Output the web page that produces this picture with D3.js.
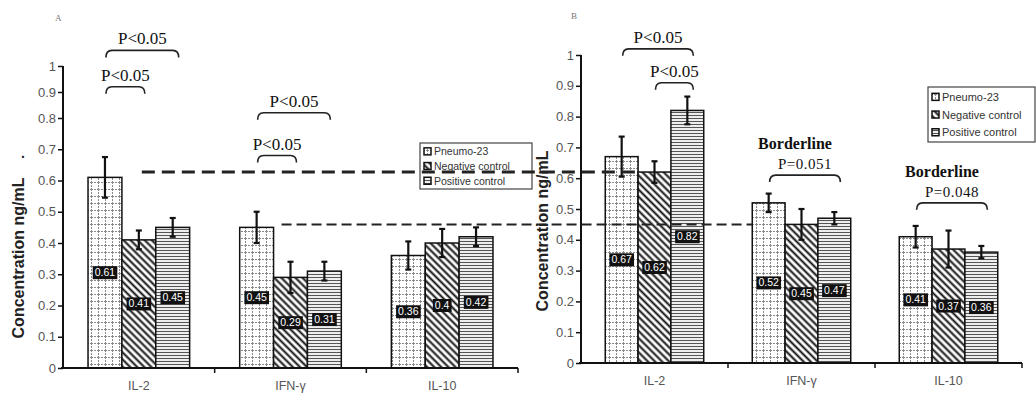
<!DOCTYPE html>
<html>
<head>
<meta charset="utf-8">
<script src="https://cdn.jsdelivr.net/npm/d3@7"></script>
<style>
  body { margin: 0; background: #fff; }
  svg { display: block; }
</style>
</head>
<body>
<svg id="chart" width="1036" height="393"></svg>
<script>
const categories = ['IL-2', 'IFN-γ', 'IL-10'];
const groups = ['Pneumo-23', 'Negative control', 'Positive control'];
const yTicks = [0, 0.1, 0.2, 0.3, 0.4, 0.5, 0.6, 0.7, 0.8, 0.9, 1];

// Panel A
const pneumoA = [0.61, 0.45, 0.36];
const negativeA = [0.41, 0.29, 0.4];
const positiveA = [0.45, 0.31, 0.42];
const pneumoAErr = [0.065, 0.05, 0.045];
const negativeAErr = [0.03, 0.05, 0.045];
const positiveAErr = [0.03, 0.03, 0.03];

// Panel B
const pneumoB = [0.67, 0.52, 0.41];
const negativeB = [0.62, 0.45, 0.37];
const positiveB = [0.82, 0.47, 0.36];
const pneumoBErr = [0.065, 0.03, 0.035];
const negativeBErr = [0.035, 0.05, 0.06];
const positiveBErr = [0.045, 0.02, 0.02];

// significance brackets: category, bar from -> bar to, height (data units), text lines
const sigA = [
  { cat: 0, from: 0, to: 1, y: 0.92, text: ['P<0.05'] },
  { cat: 0, from: 0, to: 2, y: 1.06, text: ['P<0.05'] },
  { cat: 1, from: 0, to: 2, y: 0.82, text: ['P<0.05'] },
  { cat: 1, from: 0, to: 1, y: 0.68, text: ['P<0.05'] }
];
const sigB = [
  { cat: 0, from: 0, to: 2, y: 1.02, text: ['P<0.05'] },
  { cat: 0, from: 1, to: 2, y: 0.91, text: ['P<0.05'] },
  { cat: 1, from: 0, to: 2, y: 0.61, text: ['Borderline', 'P=0.051'] },
  { cat: 2, from: 0, to: 2, y: 0.52, text: ['Borderline', 'P=0.048'] }
];

const svg = d3.select('#chart');
const defs = svg.append('defs');

// fill patterns
const pGrid = defs.append('pattern').attr('id', 'pat0')
  .attr('patternUnits', 'userSpaceOnUse').attr('width', 7).attr('height', 7);
pGrid.append('rect').attr('width', 7).attr('height', 7).attr('fill', '#fff');
pGrid.append('line').attr('x1', 0).attr('x2', 7).attr('y1', 0.5).attr('y2', 0.5)
  .attr('stroke', '#8a8a8a').attr('stroke-dasharray', '2,1');
pGrid.append('line').attr('x1', 0.5).attr('x2', 0.5).attr('y1', 0).attr('y2', 7)
  .attr('stroke', '#8a8a8a').attr('stroke-dasharray', '2,1');

const pDiag = defs.append('pattern').attr('id', 'pat1')
  .attr('patternUnits', 'userSpaceOnUse').attr('width', 5).attr('height', 5)
  .attr('patternTransform', 'rotate(45)');
pDiag.append('rect').attr('width', 5).attr('height', 5).attr('fill', '#fff');
pDiag.append('line').attr('x1', 0).attr('x2', 5).attr('y1', 2.5).attr('y2', 2.5)
  .attr('stroke', '#111').attr('stroke-width', 2);

const pHoriz = defs.append('pattern').attr('id', 'pat2')
  .attr('patternUnits', 'userSpaceOnUse').attr('width', 4).attr('height', 3);
pHoriz.append('rect').attr('width', 4).attr('height', 3).attr('fill', '#fff');
pHoriz.append('line').attr('x1', 0).attr('x2', 4).attr('y1', 1.5).attr('y2', 1.5)
  .attr('stroke', '#555').attr('stroke-width', 1.2);

const fills = ['url(#pat0)', 'url(#pat1)', 'url(#pat2)'];

function drawPanel(cfg) {
  const g = svg.append('g');
  const x = d3.scaleBand().domain(categories).range(cfg.xRange)
    .paddingInner(0.33).paddingOuter(0.165);
  const xi = d3.scaleBand().domain(groups).range([0, x.bandwidth()]);
  const y = cfg.y;
  const barX = (c, s) => x(categories[c]) + xi(groups[s]);
  const barMid = (c, s) => barX(c, s) + xi.bandwidth() / 2;

  // bars
  const rows = [];
  cfg.values.forEach((vals, s) => vals.forEach((v, c) => rows.push({ c, s, v, e: cfg.errors[s][c] })));

  g.selectAll('rect.bar').data(rows).join('rect')
    .attr('class', 'bar')
    .attr('x', d => barX(d.c, d.s))
    .attr('y', d => y(d.v))
    .attr('width', xi.bandwidth())
    .attr('height', d => y(0) - y(d.v))
    .attr('fill', d => fills[d.s])
    .attr('stroke', '#111').attr('stroke-width', 1.5);

  // value labels (black boxes)
  rows.forEach(d => {
    const cx = barMid(d.c, d.s);
    const cy = (y(0) + y(d.v)) / 2;
    const t = g.append('text').attr('x', cx).attr('y', cy + 3.5)
      .attr('text-anchor', 'middle').attr('font-family', 'Liberation Sans, Arial')
      .attr('font-size', 10.5).attr('fill', '#fff').text(String(d.v));
    const bb = t.node().getBBox();
    g.insert('rect', () => t.node())
      .attr('x', bb.x - 2).attr('y', cy - 6.5).attr('width', bb.width + 4).attr('height', 13)
      .attr('fill', '#111');
  });

  // error bars
  rows.forEach(d => {
    const cx = barMid(d.c, d.s);
    const eg = g.append('g').attr('stroke', '#111').attr('stroke-width', 2.2);
    eg.append('line').attr('x1', cx).attr('x2', cx).attr('y1', y(d.v + d.e)).attr('y2', y(d.v - d.e));
    eg.append('line').attr('x1', cx - 3).attr('x2', cx + 3).attr('y1', y(d.v + d.e)).attr('y2', y(d.v + d.e));
    eg.append('line').attr('x1', cx - 3).attr('x2', cx + 3).attr('y1', y(d.v - d.e)).attr('y2', y(d.v - d.e));
  });

  // y axis
  const yAxis = g.append('g').attr('transform', `translate(${cfg.xRange[0]},0)`)
    .call(d3.axisLeft(y).tickValues(yTicks).tickSize(5).tickFormat(d => String(d)));
  yAxis.select('.domain').attr('stroke', '#111').attr('stroke-width', 2)
    .attr('d', `M0,${y(1)}V${y(0)}`);
  yAxis.selectAll('.tick line').attr('stroke', '#111').attr('stroke-width', 1.5);
  yAxis.selectAll('.tick text').attr('font-family', 'Liberation Sans, Arial')
    .attr('font-size', 13).attr('fill', '#555').attr('x', -7);

  // x axis
  const xAxis = g.append('g').attr('transform', `translate(0,${y(0)})`)
    .call(d3.axisBottom(x).tickSize(0).tickPadding(13));
  xAxis.select('.domain').attr('stroke', '#111').attr('stroke-width', 2)
    .attr('d', `M${cfg.xRange[0] - 2},0H${cfg.xRange[1]}`);
  xAxis.selectAll('.tick text').attr('font-family', 'Liberation Sans, Arial')
    .attr('font-size', 12.5).attr('fill', '#555');
  categories.forEach((c, i) => {
    const bx = cfg.xRange[0] + x.step() * (i + 1);
    xAxis.append('line').attr('x1', bx).attr('x2', bx).attr('y1', 0).attr('y2', 5)
      .attr('stroke', '#111').attr('stroke-width', 1.5);
  });

  // axis title
  g.append('text')
    .attr('transform', `translate(${cfg.titleX},${cfg.titleY}) rotate(-90)`)
    .attr('text-anchor', 'middle').attr('font-family', 'Liberation Sans, Arial')
    .attr('font-weight', 'bold').attr('font-size', 16).attr('fill', '#222')
    .text('Concentration ng/mL');

  // panel letter
  g.append('text').attr('x', cfg.letterPos[0]).attr('y', cfg.letterPos[1])
    .attr('font-family', 'Liberation Serif, Times New Roman').attr('font-size', 9)
    .attr('fill', '#777').text(cfg.letter);

  // significance brackets
  cfg.sig.forEach(s => {
    const x1 = barMid(s.cat, s.from) + 1;
    const x2 = barMid(s.cat, s.to) + 6;
    const by = y(s.y);
    g.append('path')
      .attr('d', `M${x1},${by + 7}Q${x1},${by} ${x1 + 6},${by}L${x2 - 6},${by}Q${x2},${by} ${x2},${by + 7}`)
      .attr('fill', 'none').attr('stroke', '#222').attr('stroke-width', 1.6);
    const cx = (x1 + x2) / 2;
    if (s.text.length === 1) {
      g.append('text').attr('x', cx).attr('y', by - 6).attr('text-anchor', 'middle')
        .attr('font-family', 'Liberation Serif, Times New Roman').attr('font-size', 17)
        .attr('fill', '#111').text(s.text[0]);
    } else {
      g.append('text').attr('x', cx - 10).attr('y', by - 26).attr('text-anchor', 'middle')
        .attr('font-family', 'Liberation Serif, Times New Roman').attr('font-weight', 'bold')
        .attr('font-size', 16).attr('fill', '#111').text(s.text[0]);
      g.append('text').attr('x', cx).attr('y', by - 6).attr('text-anchor', 'middle')
        .attr('font-family', 'Liberation Serif, Times New Roman').attr('font-size', 15)
        .attr('letter-spacing', 0.5).attr('fill', '#111').text(s.text[1]);
    }
  });

  return { x, xi, y, barX, barMid };
}

function drawLegend(lg) {
  const g = svg.append('g').attr('transform', `translate(${lg.x},${lg.y})`);
  g.append('rect').attr('width', lg.w).attr('height', lg.h)
    .attr('fill', '#fff').attr('stroke', '#444').attr('stroke-width', 1.2);
  groups.forEach((name, i) => {
    const cy = lg.pad + lg.row * (i + 0.5);
    g.append('rect').attr('x', 4).attr('y', cy - 3.5).attr('width', 7).attr('height', 7)
      .attr('fill', fills[i]).attr('stroke', '#111').attr('stroke-width', 1.5);
    g.append('text').attr('x', 14).attr('y', cy + 4)
      .attr('font-family', 'Liberation Sans, Arial').attr('font-size', lg.font)
      .attr('fill', '#333').text(name);
  });
}

const yA = d3.scaleLinear().domain([0, 0.8, 1]).range([368, 118, 66]);
const yB = d3.scaleLinear().domain([0, 1]).range([363, 55]);

const pA = drawPanel({
  xRange: [63, 518], y: yA,
  values: [pneumoA, negativeA, positiveA],
  errors: [pneumoAErr, negativeAErr, positiveAErr],
  sig: sigA, titleX: 24, titleY: 258, letter: 'A', letterPos: [55, 21]
});
const pB = drawPanel({
  xRange: [581, 1022], y: yB,
  values: [pneumoB, negativeB, positiveB],
  errors: [pneumoBErr, negativeBErr, positiveBErr],
  sig: sigB, titleX: 548, titleY: 231, letter: 'B', letterPos: [571, 19]
});

drawLegend({ x: 420, y: 143, w: 112, h: 46, pad: 1, row: 14.7, font: 10.5 });
drawLegend({ x: 928, y: 87, w: 107, h: 55, pad: 1, row: 17.7, font: 11 });

// dashed reference lines linking the two panels
svg.append('line')
  .attr('x1', pA.barMid(0, 1) + 3).attr('x2', pB.barX(0, 1))
  .attr('y1', yB(negativeB[0])).attr('y2', yB(negativeB[0]))
  .attr('stroke', '#222').attr('stroke-width', 3).attr('stroke-dasharray', '13,7');
svg.append('line')
  .attr('x1', pA.barX(1, 1) + 8).attr('x2', pB.barX(1, 0))
  .attr('y1', yB(negativeB[1])).attr('y2', yB(negativeB[1]))
  .attr('stroke', '#222').attr('stroke-width', 2).attr('stroke-dasharray', '10,5');

// stray mark next to the axis title in panel A
svg.append('text').attr('x', 21).attr('y', 158).attr('font-family', 'Liberation Sans, Arial')
  .attr('font-size', 14).attr('font-weight', 'bold').attr('fill', '#222').text('.');
</script>
</body>
</html>
